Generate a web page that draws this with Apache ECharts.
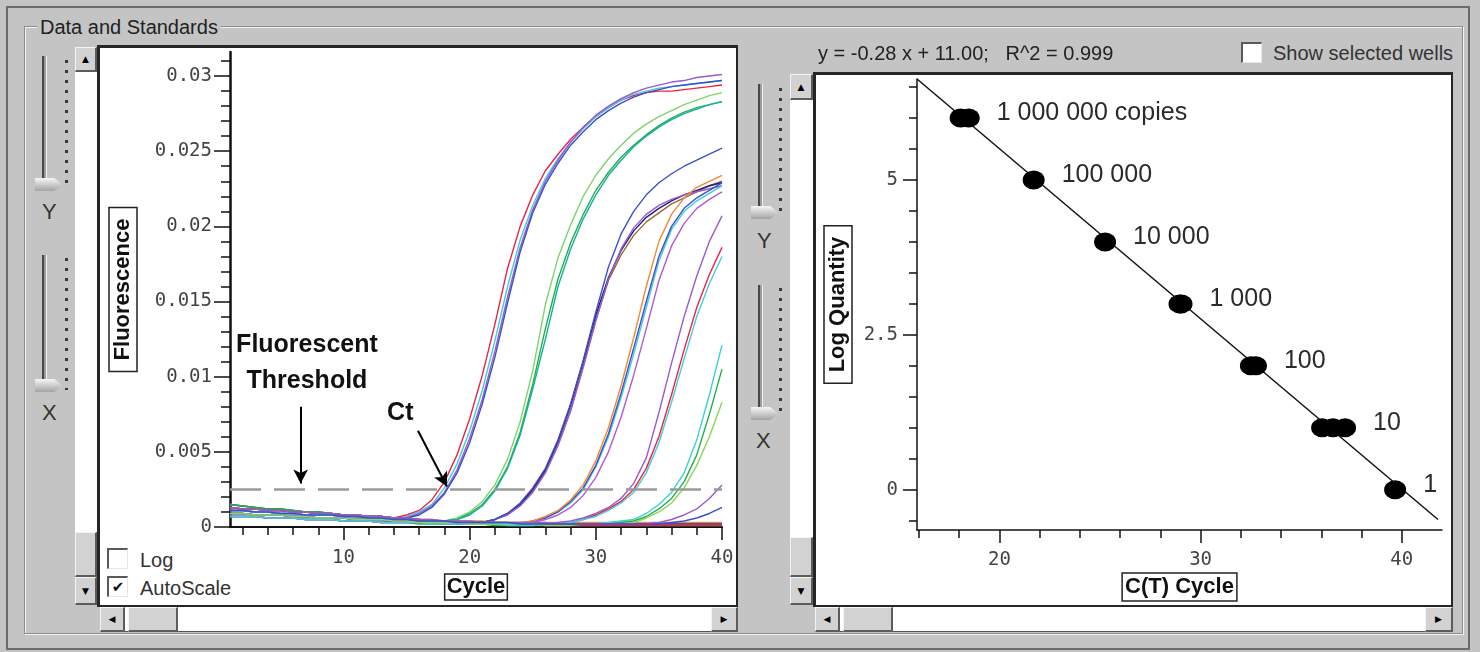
<!DOCTYPE html>
<html lang="en">
<head>
<meta charset="UTF-8">
<title>Data and Standards</title>
<style>
    html, body { margin: 0; padding: 0; }
    body {
        width: 1480px; height: 652px; position: relative; overflow: hidden;
        background: #c4c4c4; color: #222;
        font-family: "Liberation Sans", Arial, sans-serif;
    }
    .abs { position: absolute; box-sizing: border-box; }
    .frame { left: 6px; top: 6px; width: 1464px; height: 644px; border: 2px solid #6b6b6b; }
    .group { left: 24px; top: 26px; width: 1439px; height: 608px; border: 1px solid #8c8c8c;
             box-shadow: inset 1px 1px 0 #f4f4f4, 1px 1px 0 #f4f4f4; }
    .legend { left: 37px; top: 15px; padding: 0 3px; background: #c4c4c4; font-size: 20px; line-height: 24px; }
    .plot { background: #fff; border: 2px solid #262626; border-top-width: 3px; border-left-width: 3px; }
    .well { background: #fff; border-bottom: 1px solid #555; }
    .btn { background: #d2d2d2; border-top: 1px solid #f4f4f4; border-left: 1px solid #f4f4f4;
           border-right: 2px solid #5c5c5c; border-bottom: 2px solid #5c5c5c; }
    .arrow { display: flex; align-items: center; justify-content: center;
             font-family: "DejaVu Sans", sans-serif; font-size: 9px; color: #000; }
    .track { width: 5px; border-left: 2px solid #474747; border-right: 1px solid #f2f2f2; background: #9c9c9c; }
    .dots { width: 3px; background: repeating-linear-gradient(to bottom, #3a3a3a 0 3px, transparent 3px 10px); }
    .thumb { width: 27px; height: 13px; background: linear-gradient(#f6f6f6, #a4a4a4);
             clip-path: polygon(0 0, 72% 0, 100% 50%, 72% 100%, 0 100%); }
    .axlab { font-size: 22px; line-height: 24px; color: #333; }
    .cb { width: 21px; height: 21px; background: #fff; border-top: 2px solid #5a5a5a; border-left: 2px solid #5a5a5a;
          border-right: 1px solid #e6e6e6; border-bottom: 1px solid #e6e6e6;
          font-family: "DejaVu Sans", sans-serif; font-size: 15px; line-height: 18px; text-align: center; color: #111; }
    .cbtext { font-size: 20px; line-height: 22px; color: #333; }
    #chart { position: absolute; left: 0; top: 0; width: 1480px; height: 652px; }
</style>
</head>
<body>
    <div class="abs frame"></div>
    <div class="abs group"></div>
    <div class="abs legend">Data and Standards</div>

    <!-- left panel: sliders, scrollbars, plot area -->
    <div class="abs track" style="left:42px;top:56px;height:128px"></div>
    <div class="abs dots" style="left:65px;top:60px;height:130px"></div>
    <div class="abs thumb" style="left:35px;top:178px"></div>
    <div class="abs axlab" style="left:42px;top:200px">Y</div>
    <div class="abs track" style="left:42px;top:255px;height:128px"></div>
    <div class="abs dots" style="left:65px;top:258px;height:132px"></div>
    <div class="abs thumb" style="left:35px;top:379px"></div>
    <div class="abs axlab" style="left:42px;top:401px">X</div>

    <div class="abs well" style="left:75px;top:47px;width:22px;height:558px"></div>
    <div class="abs btn arrow" style="left:75px;top:47px;width:22px;height:25px">▲</div>
    <div class="abs btn" style="left:75px;top:532px;width:22px;height:45px"></div>
    <div class="abs btn arrow" style="left:75px;top:577px;width:22px;height:28px">▼</div>
    <div class="abs plot" style="left:97px;top:45px;width:641px;height:562px"></div>
    <div class="abs well" style="left:100px;top:607px;width:638px;height:25px"></div>
    <div class="abs btn arrow" style="left:100px;top:607px;width:25px;height:25px">◀</div>
    <div class="abs btn" style="left:128px;top:607px;width:50px;height:25px"></div>
    <div class="abs btn arrow" style="left:711px;top:607px;width:27px;height:25px">▶</div>

    <div class="abs cb" style="left:107px;top:548px"></div>
    <div class="abs cbtext" style="left:140px;top:549px">Log</div>
    <div class="abs cb" style="left:107px;top:576px">✔</div>
    <div class="abs cbtext" style="left:140px;top:577px">AutoScale</div>

    <!-- right panel -->
    <div class="abs track" style="left:758px;top:84px;height:126px"></div>
    <div class="abs dots" style="left:779px;top:88px;height:130px"></div>
    <div class="abs thumb" style="left:751px;top:206px"></div>
    <div class="abs axlab" style="left:757px;top:229px">Y</div>
    <div class="abs track" style="left:758px;top:285px;height:126px"></div>
    <div class="abs dots" style="left:779px;top:288px;height:130px"></div>
    <div class="abs thumb" style="left:751px;top:407px"></div>
    <div class="abs axlab" style="left:756px;top:429px">X</div>

    <div class="abs well" style="left:790px;top:74px;width:23px;height:531px"></div>
    <div class="abs btn arrow" style="left:790px;top:74px;width:23px;height:26px">▲</div>
    <div class="abs btn" style="left:790px;top:537px;width:23px;height:40px"></div>
    <div class="abs btn arrow" style="left:790px;top:577px;width:23px;height:28px">▼</div>
    <div class="abs plot" style="left:813px;top:72px;width:640px;height:535px"></div>
    <div class="abs well" style="left:815px;top:607px;width:638px;height:25px"></div>
    <div class="abs btn arrow" style="left:815px;top:607px;width:25px;height:25px">◀</div>
    <div class="abs btn" style="left:843px;top:607px;width:50px;height:25px"></div>
    <div class="abs btn arrow" style="left:1425px;top:607px;width:28px;height:25px">▶</div>

    <div class="abs cb" style="left:1241px;top:42px"></div>
    <div class="abs cbtext" style="left:1273px;top:42px">Show selected wells</div>

    <div id="chart"></div>

    <script src="https://cdn.jsdelivr.net/npm/echarts/dist/echarts.min.js"></script>
    <script>
        // ---- amplification plot ----
        var cycles = [1, 2, 3, 4, 5, 6, 7, 8, 9, 10, 11, 12, 13, 14, 15, 16, 17, 18, 19, 20,
            21, 22, 23, 24, 25, 26, 27, 28, 29, 30, 31, 32, 33, 34, 35, 36, 37, 38, 39, 40];
        var cycleTicks = [10, 20, 30, 40];
        var cycleMinorTicks = [2, 4, 6, 8, 12, 14, 16, 18, 22, 24, 26, 28, 32, 34, 36, 38];
        var fluorTicks = [0, 0.005, 0.01, 0.015, 0.02, 0.025, 0.03];
        var fluorMinorTicks = [0.001, 0.002, 0.003, 0.004, 0.006, 0.007, 0.008, 0.009, 0.011, 0.012,
            0.013, 0.014, 0.016, 0.017, 0.018, 0.019, 0.021, 0.022, 0.023, 0.024, 0.026, 0.027,
            0.028, 0.029, 0.031];
        var threshold = 0.0025;

        // no template controls
        var ntcA = [0.0015, 0.0014, 0.0013, 0.0012, 0.0012, 0.0011, 0.0010, 0.0010, 0.0009, 0.0008,
            0.0008, 0.0007, 0.0007, 0.0006, 0.0005, 0.0005, 0.0005, 0.0004, 0.0004, 0.0004,
            0.0004, 0.0003, 0.0003, 0.0003, 0.0003, 0.0003, 0.0003, 0.0003, 0.0003, 0.0003,
            0.0003, 0.0003, 0.0003, 0.0003, 0.0003, 0.0003, 0.0003, 0.0003, 0.0003, 0.0003];
        var ntcB = [0.0009, 0.0009, 0.0008, 0.0008, 0.0008, 0.0007, 0.0007, 0.0006, 0.0006, 0.0006,
            0.0005, 0.0005, 0.0005, 0.0004, 0.0004, 0.0003, 0.0003, 0.0003, 0.0002, 0.0002,
            0.0002, 0.0002, 0.0002, 0.0002, 0.0002, 0.0002, 0.0002, 0.0002, 0.0002, 0.0002,
            0.0002, 0.0002, 0.0002, 0.0002, 0.0002, 0.0002, 0.0002, 0.0002, 0.0002, 0.0002];
        var ntcC = [0.0007, 0.0007, 0.0007, 0.0006, 0.0006, 0.0006, 0.0005, 0.0005, 0.0005, 0.0004,
            0.0004, 0.0004, 0.0003, 0.0003, 0.0003, 0.0002, 0.0002, 0.0002, 0.0002, 0.0002,
            0.0002, 0.0001, 0.0001, 0.0001, 0.0001, 0.0001, 0.0001, 0.0001, 0.0001, 0.0001,
            0.0001, 0.0001, 0.0001, 0.0001, 0.0001, 0.0001, 0.0001, 0.0001, 0.0001, 0.0001];
        var ntcD = [0.0011, 0.0011, 0.0010, 0.0010, 0.0009, 0.0009, 0.0008, 0.0008, 0.0008, 0.0007,
            0.0007, 0.0006, 0.0006, 0.0005, 0.0005, 0.0004, 0.0004, 0.0003, 0.0003, 0.0003,
            0.0002, 0.0002, 0.0002, 0.0002, 0.0002, 0.0001, 0.0001, 0.0001, 0.0001, 0.0001,
            0.0001, 0.0001, 0.0001, 0.0001, 0.0001, 0.0001, 0.0001, 0.0001, 0.0001, 0.0001];

        // 1 000 000 copies
        var w1e6a = [0.0013, 0.0012, 0.0012, 0.0011, 0.0011, 0.0010, 0.0010, 0.0009, 0.0009, 0.0008,
            0.0008, 0.0007, 0.0007, 0.0006, 0.0008, 0.0011, 0.0018, 0.0030, 0.0048, 0.0072,
            0.0101, 0.0135, 0.0172, 0.0200, 0.0221, 0.0237, 0.0248, 0.0258, 0.0266, 0.0273,
            0.0279, 0.0284, 0.0287, 0.0289, 0.0290, 0.0290, 0.0291, 0.0292, 0.0293, 0.0294];
        var w1e6b = [0.0009, 0.0009, 0.0008, 0.0008, 0.0008, 0.0007, 0.0007, 0.0006, 0.0006, 0.0006,
            0.0005, 0.0005, 0.0005, 0.0005, 0.0007, 0.0010, 0.0015, 0.0026, 0.0042, 0.0064,
            0.0091, 0.0124, 0.0160, 0.0191, 0.0214, 0.0232, 0.0245, 0.0256, 0.0265, 0.0273,
            0.0279, 0.0284, 0.0288, 0.0290, 0.0292, 0.0293, 0.0294, 0.0295, 0.0296, 0.0297];
        var w1e6c = [0.0011, 0.0011, 0.0010, 0.0010, 0.0009, 0.0009, 0.0008, 0.0008, 0.0008, 0.0007,
            0.0007, 0.0006, 0.0006, 0.0005, 0.0006, 0.0009, 0.0014, 0.0023, 0.0038, 0.0059,
            0.0085, 0.0117, 0.0153, 0.0186, 0.0211, 0.0230, 0.0244, 0.0256, 0.0266, 0.0274,
            0.0280, 0.0285, 0.0289, 0.0292, 0.0294, 0.0296, 0.0297, 0.0299, 0.0300, 0.0301];
        var w1e6d = [0.0007, 0.0007, 0.0007, 0.0006, 0.0006, 0.0006, 0.0005, 0.0005, 0.0005, 0.0004,
            0.0004, 0.0004, 0.0003, 0.0004, 0.0006, 0.0008, 0.0013, 0.0022, 0.0036, 0.0056,
            0.0082, 0.0113, 0.0149, 0.0183, 0.0209, 0.0228, 0.0242, 0.0254, 0.0263, 0.0271,
            0.0277, 0.0282, 0.0286, 0.0289, 0.0291, 0.0293, 0.0294, 0.0295, 0.0296, 0.0297];

        // 100 000 copies
        var w1e5a = [0.0015, 0.0014, 0.0013, 0.0012, 0.0012, 0.0011, 0.0010, 0.0010, 0.0009, 0.0008,
            0.0008, 0.0007, 0.0007, 0.0006, 0.0005, 0.0004, 0.0004, 0.0004, 0.0006, 0.0010,
            0.0017, 0.0028, 0.0045, 0.0070, 0.0104, 0.0148, 0.0179, 0.0201, 0.0220, 0.0234,
            0.0245, 0.0254, 0.0262, 0.0268, 0.0273, 0.0277, 0.0281, 0.0284, 0.0287, 0.0289];
        var w1e5b = [0.0009, 0.0009, 0.0008, 0.0008, 0.0008, 0.0007, 0.0007, 0.0006, 0.0006, 0.0006,
            0.0005, 0.0005, 0.0005, 0.0004, 0.0004, 0.0003, 0.0003, 0.0004, 0.0005, 0.0009,
            0.0015, 0.0025, 0.0040, 0.0063, 0.0095, 0.0132, 0.0165, 0.0189, 0.0208, 0.0224,
            0.0236, 0.0246, 0.0254, 0.0261, 0.0267, 0.0272, 0.0276, 0.0279, 0.0281, 0.0283];
        var w1e5c = [0.0013, 0.0012, 0.0012, 0.0011, 0.0011, 0.0010, 0.0010, 0.0009, 0.0009, 0.0008,
            0.0008, 0.0007, 0.0007, 0.0006, 0.0006, 0.0004, 0.0004, 0.0004, 0.0005, 0.0008,
            0.0014, 0.0024, 0.0039, 0.0061, 0.0092, 0.0125, 0.0160, 0.0185, 0.0205, 0.0221,
            0.0234, 0.0244, 0.0253, 0.0260, 0.0266, 0.0271, 0.0275, 0.0278, 0.0281, 0.0283];

        // 10 000 copies
        var w1e4a = [0.0011, 0.0011, 0.0010, 0.0010, 0.0009, 0.0009, 0.0008, 0.0008, 0.0008, 0.0007,
            0.0007, 0.0006, 0.0006, 0.0005, 0.0005, 0.0004, 0.0004, 0.0003, 0.0003, 0.0003,
            0.0003, 0.0005, 0.0009, 0.0015, 0.0024, 0.0037, 0.0055, 0.0078, 0.0107, 0.0138,
            0.0164, 0.0181, 0.0194, 0.0203, 0.0209, 0.0215, 0.0219, 0.0223, 0.0227, 0.0230];
        var w1e4b = [0.0013, 0.0012, 0.0012, 0.0011, 0.0011, 0.0010, 0.0010, 0.0009, 0.0009, 0.0008,
            0.0008, 0.0007, 0.0007, 0.0006, 0.0006, 0.0005, 0.0004, 0.0004, 0.0003, 0.0003,
            0.0003, 0.0005, 0.0009, 0.0015, 0.0025, 0.0038, 0.0057, 0.0081, 0.0110, 0.0141,
            0.0166, 0.0184, 0.0197, 0.0206, 0.0212, 0.0217, 0.0221, 0.0224, 0.0227, 0.0229];
        var w1e4c = [0.0007, 0.0007, 0.0007, 0.0006, 0.0006, 0.0006, 0.0005, 0.0005, 0.0005, 0.0004,
            0.0004, 0.0004, 0.0003, 0.0003, 0.0003, 0.0003, 0.0003, 0.0002, 0.0002, 0.0002,
            0.0003, 0.0005, 0.0008, 0.0014, 0.0023, 0.0036, 0.0054, 0.0077, 0.0106, 0.0137,
            0.0165, 0.0185, 0.0199, 0.0208, 0.0214, 0.0218, 0.0221, 0.0223, 0.0225, 0.0227];
        var w1e4d = [0.0009, 0.0009, 0.0008, 0.0008, 0.0008, 0.0007, 0.0007, 0.0006, 0.0006, 0.0006,
            0.0005, 0.0005, 0.0005, 0.0004, 0.0004, 0.0003, 0.0003, 0.0003, 0.0003, 0.0003,
            0.0003, 0.0005, 0.0009, 0.0016, 0.0026, 0.0039, 0.0058, 0.0082, 0.0111, 0.0143,
            0.0173, 0.0195, 0.0210, 0.0221, 0.0229, 0.0235, 0.0240, 0.0244, 0.0248, 0.0252];

        // 1 000 copies
        var w1e3a = [0.0011, 0.0011, 0.0010, 0.0010, 0.0009, 0.0009, 0.0008, 0.0008, 0.0008, 0.0007,
            0.0007, 0.0006, 0.0006, 0.0005, 0.0005, 0.0004, 0.0004, 0.0003, 0.0003, 0.0003,
            0.0003, 0.0002, 0.0002, 0.0002, 0.0004, 0.0006, 0.0010, 0.0016, 0.0025, 0.0040,
            0.0060, 0.0086, 0.0115, 0.0146, 0.0177, 0.0198, 0.0210, 0.0217, 0.0222, 0.0227];
        var w1e3b = [0.0015, 0.0014, 0.0013, 0.0012, 0.0012, 0.0011, 0.0010, 0.0010, 0.0009, 0.0008,
            0.0008, 0.0007, 0.0007, 0.0006, 0.0005, 0.0004, 0.0004, 0.0004, 0.0003, 0.0003,
            0.0003, 0.0003, 0.0002, 0.0002, 0.0004, 0.0006, 0.0010, 0.0017, 0.0026, 0.0041,
            0.0062, 0.0089, 0.0119, 0.0150, 0.0180, 0.0200, 0.0212, 0.0219, 0.0224, 0.0229];
        var w1e3c = [0.0013, 0.0012, 0.0012, 0.0011, 0.0011, 0.0010, 0.0010, 0.0009, 0.0009, 0.0008,
            0.0008, 0.0007, 0.0007, 0.0006, 0.0006, 0.0005, 0.0004, 0.0004, 0.0004, 0.0003,
            0.0003, 0.0003, 0.0003, 0.0003, 0.0004, 0.0007, 0.0011, 0.0018, 0.0028, 0.0044,
            0.0066, 0.0094, 0.0126, 0.0160, 0.0190, 0.0208, 0.0219, 0.0226, 0.0230, 0.0234];
        var w1e3d = [0.0007, 0.0007, 0.0007, 0.0006, 0.0006, 0.0006, 0.0005, 0.0005, 0.0005, 0.0004,
            0.0004, 0.0004, 0.0003, 0.0003, 0.0003, 0.0003, 0.0003, 0.0002, 0.0002, 0.0002,
            0.0002, 0.0002, 0.0002, 0.0002, 0.0003, 0.0005, 0.0008, 0.0013, 0.0021, 0.0033,
            0.0050, 0.0073, 0.0101, 0.0132, 0.0164, 0.0187, 0.0202, 0.0212, 0.0218, 0.0223];

        // 100 copies
        var w1e2a = [0.0009, 0.0009, 0.0008, 0.0008, 0.0008, 0.0007, 0.0007, 0.0006, 0.0006, 0.0006,
            0.0005, 0.0005, 0.0005, 0.0004, 0.0004, 0.0003, 0.0003, 0.0003, 0.0003, 0.0002,
            0.0002, 0.0002, 0.0002, 0.0002, 0.0002, 0.0002, 0.0003, 0.0004, 0.0006, 0.0009,
            0.0013, 0.0019, 0.0029, 0.0046, 0.0076, 0.0109, 0.0140, 0.0167, 0.0190, 0.0207];
        var w1e2b = [0.0013, 0.0012, 0.0012, 0.0011, 0.0011, 0.0010, 0.0010, 0.0009, 0.0009, 0.0008,
            0.0008, 0.0007, 0.0007, 0.0006, 0.0006, 0.0005, 0.0004, 0.0004, 0.0003, 0.0003,
            0.0003, 0.0002, 0.0002, 0.0002, 0.0002, 0.0002, 0.0002, 0.0003, 0.0005, 0.0008,
            0.0012, 0.0017, 0.0025, 0.0039, 0.0060, 0.0088, 0.0118, 0.0146, 0.0168, 0.0186];
        var w1e2c = [0.0007, 0.0007, 0.0007, 0.0006, 0.0006, 0.0006, 0.0005, 0.0005, 0.0005, 0.0004,
            0.0004, 0.0004, 0.0003, 0.0003, 0.0003, 0.0003, 0.0002, 0.0002, 0.0002, 0.0002,
            0.0002, 0.0002, 0.0001, 0.0001, 0.0001, 0.0002, 0.0002, 0.0003, 0.0005, 0.0007,
            0.0011, 0.0016, 0.0023, 0.0036, 0.0056, 0.0083, 0.0112, 0.0140, 0.0162, 0.0180];

        // 10 copies
        var w10a = [0.0011, 0.0011, 0.0010, 0.0010, 0.0009, 0.0009, 0.0008, 0.0008, 0.0008, 0.0007,
            0.0007, 0.0006, 0.0006, 0.0005, 0.0005, 0.0004, 0.0004, 0.0003, 0.0003, 0.0003,
            0.0003, 0.0003, 0.0002, 0.0002, 0.0002, 0.0002, 0.0002, 0.0002, 0.0002, 0.0002,
            0.0003, 0.0004, 0.0005, 0.0009, 0.0015, 0.0023, 0.0036, 0.0058, 0.0088, 0.0121];
        var w10b = [0.0015, 0.0014, 0.0013, 0.0012, 0.0012, 0.0011, 0.0010, 0.0010, 0.0009, 0.0008,
            0.0008, 0.0007, 0.0007, 0.0006, 0.0005, 0.0004, 0.0004, 0.0004, 0.0003, 0.0003,
            0.0003, 0.0003, 0.0003, 0.0002, 0.0002, 0.0002, 0.0002, 0.0002, 0.0002, 0.0002,
            0.0002, 0.0003, 0.0004, 0.0007, 0.0012, 0.0019, 0.0030, 0.0048, 0.0075, 0.0105];
        var w10c = [0.0009, 0.0009, 0.0008, 0.0008, 0.0008, 0.0007, 0.0007, 0.0006, 0.0006, 0.0006,
            0.0005, 0.0005, 0.0005, 0.0004, 0.0004, 0.0003, 0.0003, 0.0003, 0.0003, 0.0002,
            0.0002, 0.0002, 0.0002, 0.0002, 0.0002, 0.0001, 0.0001, 0.0001, 0.0002, 0.0002,
            0.0002, 0.0002, 0.0003, 0.0006, 0.0010, 0.0016, 0.0026, 0.0041, 0.0060, 0.0083];

        // 1 copy
        var w1a = [0.0013, 0.0012, 0.0012, 0.0011, 0.0011, 0.0010, 0.0010, 0.0009, 0.0009, 0.0008,
            0.0008, 0.0007, 0.0007, 0.0006, 0.0006, 0.0005, 0.0005, 0.0004, 0.0004, 0.0004,
            0.0003, 0.0003, 0.0003, 0.0003, 0.0003, 0.0003, 0.0002, 0.0002, 0.0002, 0.0002,
            0.0002, 0.0002, 0.0002, 0.0002, 0.0003, 0.0005, 0.0008, 0.0012, 0.0019, 0.0028];
        var w1b = [0.0011, 0.0011, 0.0010, 0.0010, 0.0009, 0.0009, 0.0008, 0.0008, 0.0008, 0.0007,
            0.0007, 0.0006, 0.0006, 0.0005, 0.0005, 0.0004, 0.0004, 0.0004, 0.0003, 0.0003,
            0.0003, 0.0003, 0.0003, 0.0002, 0.0002, 0.0002, 0.0002, 0.0002, 0.0002, 0.0002,
            0.0002, 0.0002, 0.0002, 0.0002, 0.0002, 0.0003, 0.0004, 0.0006, 0.0009, 0.0013];

        var wellData = [ntcA, ntcB, ntcC, ntcD,
            w1e6a, w1e6b, w1e6c, w1e6d, w1e5a, w1e5b, w1e5c,
            w1e4a, w1e4b, w1e4c, w1e4d, w1e3a, w1e3b, w1e3c, w1e3d,
            w1e2a, w1e2b, w1e2c, w10a, w10b, w10c, w1a, w1b];
        var wellColors = ['#f08a30', '#1c2078', '#22b04a', '#ee2244',
            '#ee2244', '#3fcfd6', '#9a5ad0', '#3b4fd0', '#7fd36a', '#22b04a', '#14b0a0',
            '#9a6a3a', '#1c2078', '#9a5ad0', '#3b4fd0', '#3fcfd6', '#3b4fd0', '#f08a30', '#b05ad0',
            '#9a5ad0', '#ee2244', '#3fcfd6', '#3fcfd6', '#22b04a', '#8fd35a', '#9a5ad0', '#3b4fd0'];

        // ---- standard curve ----
        var ctTicks = [20, 30, 40];
        var ctMinorTicks = [16, 18, 22, 24, 26, 28, 32, 34, 36, 38];
        var logQtyTicks = [0, 2.5, 5];
        var logQtyMinorTicks = [-0.5, 0.5, 1, 1.5, 2, 3, 3.5, 4, 4.5, 5.5, 6, 6.5];
        var stdLogQty = [6, 5, 4, 3, 2, 1, 0];
        var stdCt = [[18.07, 18.47], [21.70], [25.25], [28.95, 29.05], [32.50, 32.75], [36.04, 36.58, 37.18], [39.67]];
        var stdLabels = ['1 000 000 copies', '100 000', '10 000', '1 000', '100', '10', '1'];
        var fitLine = [[15.9, 6.63], [41.8, -0.48]];

        var monoLabel = { fontFamily: 'DejaVu Sans Mono', fontSize: 19, color: '#444' };
        var nameBox = { fontFamily: 'Liberation Sans', fontWeight: 'bold', fontSize: 22, color: '#111',
            borderColor: '#222', borderWidth: 1.5 };
        var blackLine = { color: '#111', width: 2 };

        function plain(v) { return String(v); }

        var series = [];
        wellData.forEach(function(arr, i) {
            series.push({
                type: 'line',
                xAxisIndex: 1,
                yAxisIndex: 1,
                data: cycles.map(function(c, j) { return [c, arr[j]]; }),
                showSymbol: false,
                symbol: 'none',
                silent: true,
                z: 3,
                lineStyle: { width: 1.4, color: wellColors[i] }
            });
        });

        // threshold line plus the two annotations
        series.push({
            type: 'line',
            xAxisIndex: 1,
            yAxisIndex: 1,
            data: [[cycles[0], threshold], [cycles[cycles.length - 1], threshold]],
            symbol: 'none',
            silent: true,
            z: 4,
            lineStyle: { color: '#9a9a9a', width: 2.5, type: [31, 13] },
            markLine: {
                silent: true,
                symbol: ['none', 'arrow'],
                symbolSize: [11, 14],
                label: { show: false },
                lineStyle: { color: '#000', width: 2, type: 'solid' },
                data: [
                    [{ coord: [6.6, 0.0080] }, { coord: [6.6, 0.0029] }],
                    [{ coord: [15.9, 0.0064] }, { coord: [18.2, 0.0027] }]
                ]
            },
            markPoint: {
                silent: true,
                symbol: 'circle',
                symbolSize: 1,
                itemStyle: { color: 'rgba(0,0,0,0)' },
                label: {
                    show: true, position: 'inside', formatter: '{b}',
                    fontFamily: 'Liberation Sans', fontWeight: 'bold', fontSize: 25,
                    lineHeight: 36, color: '#111'
                },
                data: [
                    { name: 'Fluorescent\nThreshold', coord: [7.1, 0.0109] },
                    { name: 'Ct', coord: [14.5, 0.0076] }
                ]
            }
        });

        series.push({
            type: 'line',
            xAxisIndex: 3,
            yAxisIndex: 3,
            data: fitLine,
            symbol: 'none',
            silent: true,
            clip: false,
            lineStyle: { color: '#111', width: 1.5 }
        });

        var stdData = [];
        stdCt.forEach(function(reps, i) {
            reps.forEach(function(ct, k) {
                stdData.push({
                    value: [ct, stdLogQty[i]],
                    label: { show: k === reps.length - 1, formatter: stdLabels[i] }
                });
            });
        });
        series.push({
            type: 'scatter',
            xAxisIndex: 3,
            yAxisIndex: 3,
            symbol: 'circle',
            symbolSize: [22, 19],
            silent: true,
            z: 5,
            itemStyle: { color: '#000', opacity: 1 },
            label: {
                position: 'right', distance: 17, offset: [0, -5],
                fontFamily: 'Liberation Sans', fontSize: 25, color: '#2b2b2b'
            },
            data: stdData
        });

        var chart = echarts.init(document.getElementById('chart'));
        chart.setOption({
            animation: false,
            textStyle: { fontFamily: 'Liberation Sans' },
            title: {
                text: 'y = -0.28 x + 11.00;   R^2 = 0.999',
                left: 818, top: 44, padding: 0,
                textStyle: { fontFamily: 'Liberation Sans', fontSize: 20, fontWeight: 'normal', color: '#222' }
            },
            grid: [
                { left: 230, top: 52, width: 492, height: 475, outerBoundsMode: 'none' },
                { left: 917, top: 79, width: 525, height: 451, outerBoundsMode: 'none' }
            ],
            xAxis: [
                {
                    gridIndex: 0, type: 'value', min: 1, max: 40, position: 'bottom',
                    axisLine: { show: true, onZero: false, lineStyle: blackLine },
                    axisTick: { show: true, customValues: cycleMinorTicks, length: 8, lineStyle: { color: '#111', width: 1.5 } },
                    axisLabel: { show: false },
                    splitLine: { show: false }
                },
                {
                    gridIndex: 0, type: 'value', min: 1, max: 40, position: 'bottom',
                    axisLine: { show: false, onZero: false },
                    axisTick: { show: true, customValues: cycleTicks, length: 13, lineStyle: { color: '#111', width: 1.5 } },
                    axisLabel: Object.assign({ customValues: cycleTicks, margin: 22, formatter: plain }, monoLabel),
                    splitLine: { show: false },
                    name: 'Cycle', nameLocation: 'middle', nameGap: 47, nameMoveOverlap: false,
                    nameTextStyle: Object.assign({ padding: [2, 2] }, nameBox)
                },
                {
                    gridIndex: 1, type: 'value', min: 15.9, max: 42, position: 'bottom',
                    axisLine: { show: true, onZero: false, lineStyle: { color: '#111', width: 1.5 } },
                    axisTick: { show: true, customValues: ctMinorTicks, length: 8, lineStyle: { color: '#111', width: 1.5 } },
                    axisLabel: { show: false },
                    splitLine: { show: false }
                },
                {
                    gridIndex: 1, type: 'value', min: 15.9, max: 42, position: 'bottom',
                    axisLine: { show: false, onZero: false },
                    axisTick: { show: true, customValues: ctTicks, length: 13, lineStyle: { color: '#111', width: 1.5 } },
                    axisLabel: Object.assign({ customValues: ctTicks, margin: 21, formatter: plain }, monoLabel),
                    splitLine: { show: false },
                    name: 'C(T) Cycle', nameLocation: 'middle', nameGap: 43, nameMoveOverlap: false,
                    nameTextStyle: Object.assign({ padding: [3, 3] }, nameBox)
                }
            ],
            yAxis: [
                {
                    gridIndex: 0, type: 'value', min: 0, max: 0.0316, position: 'left',
                    axisLine: { show: true, onZero: false, lineStyle: { color: '#111', width: 2.5 } },
                    axisTick: { show: true, customValues: fluorMinorTicks, length: 9, lineStyle: { color: '#111', width: 1.5 } },
                    axisLabel: { show: false },
                    splitLine: { show: false }
                },
                {
                    gridIndex: 0, type: 'value', min: 0, max: 0.0316, position: 'left',
                    axisLine: { show: false, onZero: false },
                    axisTick: { show: true, customValues: fluorTicks, length: 16, lineStyle: { color: '#111', width: 1.5 } },
                    axisLabel: Object.assign({ customValues: fluorTicks, margin: 18, formatter: plain }, monoLabel),
                    splitLine: { show: false },
                    name: 'Fluorescence', nameLocation: 'middle', nameRotate: 90, nameGap: 93, nameMoveOverlap: false,
                    nameTextStyle: Object.assign({ padding: [3, 11] }, nameBox)
                },
                {
                    gridIndex: 1, type: 'value', min: -0.65, max: 6.63, position: 'left',
                    axisLine: { show: true, onZero: false, lineStyle: { color: '#111', width: 1.5 } },
                    axisTick: { show: true, customValues: logQtyMinorTicks, length: 8, lineStyle: { color: '#111', width: 1.5 } },
                    axisLabel: { show: false },
                    splitLine: { show: false }
                },
                {
                    gridIndex: 1, type: 'value', min: -0.65, max: 6.63, position: 'left',
                    axisLine: { show: false, onZero: false },
                    axisTick: { show: true, customValues: logQtyTicks, length: 14, lineStyle: { color: '#111', width: 1.5 } },
                    axisLabel: Object.assign({ customValues: logQtyTicks, margin: 19, formatter: plain }, monoLabel),
                    splitLine: { show: false },
                    name: 'Log Quantity', nameLocation: 'middle', nameRotate: 90, nameGap: 65, nameMoveOverlap: false,
                    nameTextStyle: Object.assign({ padding: [3, 11] }, nameBox)
                }
            ],
            series: series
        });
    </script>
</body>
</html>
